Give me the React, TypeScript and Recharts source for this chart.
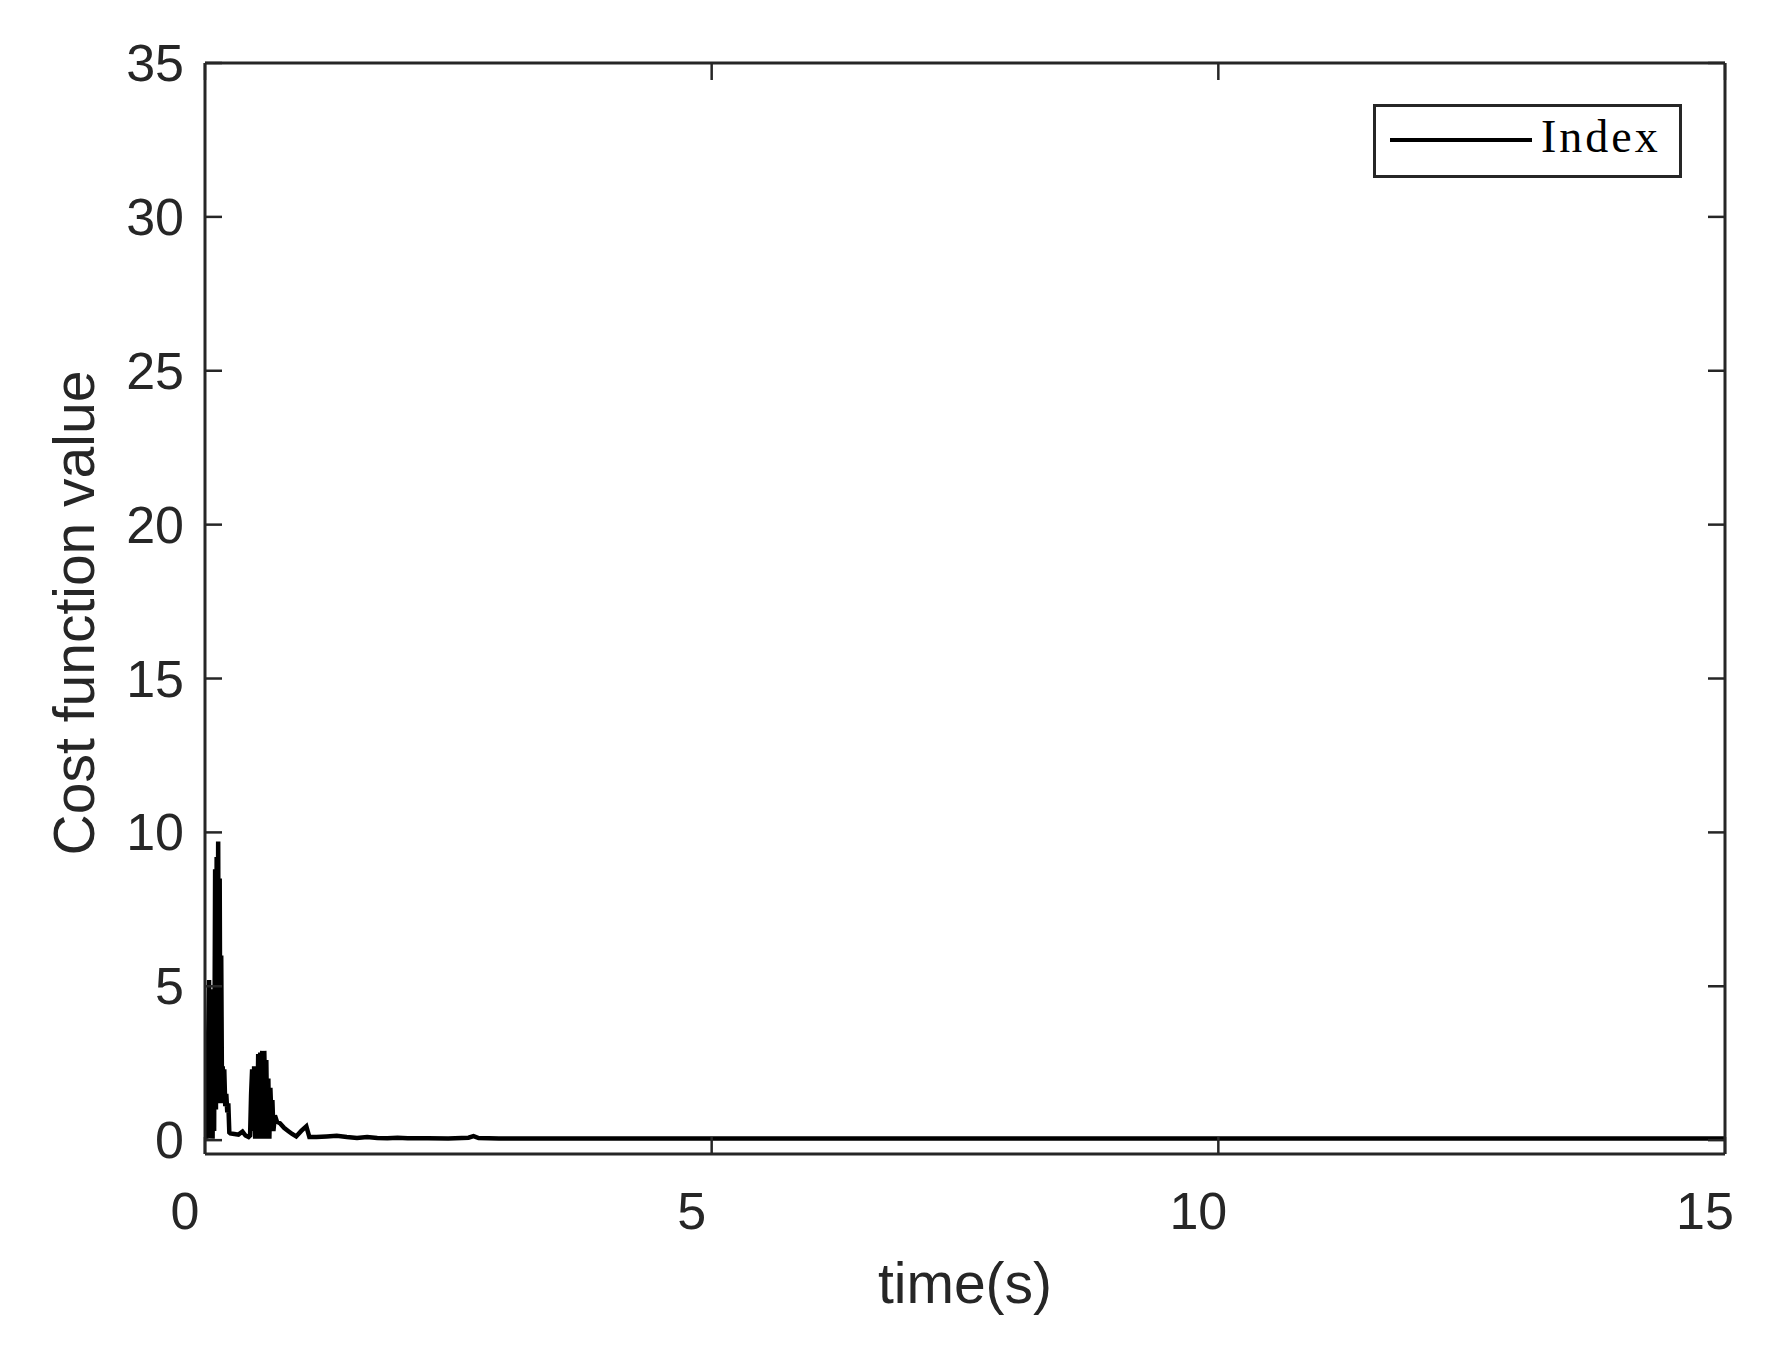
import React from 'react';
import { LineChart, Line, XAxis, YAxis, Legend, Label } from 'recharts';

// ---- data ----
const time: number[] = [
  0.0, 0.015, 0.03, 0.04, 0.048, 0.055, 0.06, 0.068, 0.075, 0.082, 0.09, 0.1, 0.108, 0.115, 0.122, 0.13,
  0.137, 0.145, 0.152, 0.16, 0.168, 0.175, 0.182, 0.19, 0.2, 0.21, 0.22, 0.23, 0.24, 0.25,
  0.29, 0.33, 0.37, 0.4, 0.43, 0.445, 0.455, 0.465, 0.475, 0.485, 0.495, 0.505, 0.515, 0.525,
  0.535, 0.545, 0.555, 0.565, 0.575, 0.585, 0.595, 0.605, 0.615, 0.625, 0.635, 0.645, 0.655,
  0.665, 0.675, 0.69, 0.71, 0.74, 0.78, 0.82, 0.86, 0.9, 0.95, 1.0, 1.03, 1.1, 1.2, 1.3, 1.4,
  1.5, 1.6, 1.7, 1.8, 1.9, 2.0, 2.2, 2.4, 2.6, 2.65, 2.7, 2.9, 3.2, 3.6, 4.0, 5.0, 6.0, 7.0, 8.0,
  9.0, 10.0, 11.0, 12.0, 13.0, 14.0, 15.0,
];
const cost: number[] = [
  0.3, 0.05, 3.0, 5.2, 0.1, 4.9, 0.05, 1.2, 0.05, 4.0, 0.3, 8.8, 1.0, 9.2, 2.0, 9.7,
  1.4, 8.5, 1.2, 6.0, 1.3, 2.4, 1.2, 2.3, 1.1, 1.5, 0.9, 1.2, 0.25, 0.22,
  0.2, 0.18, 0.28, 0.15, 0.1, 0.15, 1.5, 2.3, 0.3, 2.4, 0.05, 2.2, 0.4, 2.8,
  0.05, 2.85, 0.8, 2.9, 0.05, 2.9, 1.0, 2.6, 0.05, 2.0, 0.05, 1.7, 0.8,
  1.3, 0.3, 0.8, 0.6, 0.55, 0.4, 0.3, 0.2, 0.12, 0.3, 0.45, 0.1, 0.1, 0.12, 0.14, 0.1,
  0.07, 0.1, 0.07, 0.06, 0.08, 0.06, 0.06, 0.05, 0.08, 0.13, 0.07, 0.05, 0.05, 0.05, 0.05, 0.05, 0.05, 0.05, 0.05,
  0.05, 0.05, 0.05, 0.05, 0.05, 0.05, 0.05,
];
const xTicks: number[] = [0, 5, 10, 15];
const yTicks: number[] = [0, 5, 10, 15, 20, 25, 30, 35];
const seriesName = 'Index';
const xLabel = 'time(s)';
const yLabel = 'Cost function value';

const data = time.map((t, i) => ({ t, v: cost[i] }));

const AX = '#262626';
const SANS = '"Liberation Sans", Arial, Helvetica, sans-serif';
const TICK_LEN = 17;

const BottomTick = (props: any) => {
  const { x, y, payload } = props;
  return (
    <g>
      <line x1={x} x2={x} y1={y} y2={y - TICK_LEN} stroke={AX} strokeWidth={2.5} />
      <text x={x - 20} y={y + 75} textAnchor="middle" fontSize={52} fill={AX} fontFamily={SANS}>
        {payload.value}
      </text>
    </g>
  );
};
const TopTick = (props: any) => {
  const { x, y } = props;
  return <line x1={x} x2={x} y1={y} y2={y + TICK_LEN} stroke={AX} strokeWidth={2.5} />;
};
const LeftTick = (props: any) => {
  const { x, y, payload } = props;
  return (
    <g>
      <line x1={x} x2={x + TICK_LEN} y1={y} y2={y} stroke={AX} strokeWidth={2.5} />
      <text x={x - 21} y={y + 18} textAnchor="end" fontSize={52} fill={AX} fontFamily={SANS}>
        {payload.value}
      </text>
    </g>
  );
};
const RightTick = (props: any) => {
  const { x, y } = props;
  return <line x1={x} x2={x - TICK_LEN} y1={y} y2={y} stroke={AX} strokeWidth={2.5} />;
};

const LegendBox = () => (
  <div
    style={{
      width: 303,
      height: 68,
      border: `3px solid ${AX}`,
      background: '#fff',
      boxSizing: 'content-box',
      position: 'relative',
    }}
  >
    <div style={{ position: 'absolute', left: 14, top: 31, width: 142, height: 3.5, background: '#000' }} />
    <div
      style={{
        position: 'absolute',
        left: 165,
        top: 2,
        fontFamily: '"Liberation Serif", "Times New Roman", serif',
        fontSize: 46,
        letterSpacing: 3,
        color: '#000',
        lineHeight: '56px',
      }}
    >
      {seriesName}
    </div>
  </div>
);

export default function App() {
  return (
    <div style={{ position: 'absolute', left: 0, top: 0, width: 1790, height: 1353, background: '#fff' }}>
      <LineChart
        width={1790}
        height={1353}
        data={data}
        margin={{ top: 62, right: 64, bottom: 99, left: 105 }}
      >
        <XAxis
          xAxisId="b"
          dataKey="t"
          type="number"
          domain={[0, 15]}
          ticks={xTicks}
          allowDataOverflow
          height={100}
          tickSize={0}
          tickMargin={0}
          tickLine={false}
          axisLine={{ stroke: AX, strokeWidth: 3 }}
          tick={<BottomTick />}
        >
          <Label
            content={() => (
              <text x={965} y={1303} textAnchor="middle" fontSize={57} fill={AX} fontFamily={SANS}>
                {xLabel}
              </text>
            )}
          />
        </XAxis>
        <XAxis
          xAxisId="t"
          orientation="top"
          dataKey="t"
          type="number"
          domain={[0, 15]}
          ticks={xTicks}
          allowDataOverflow
          height={1}
          tickSize={0}
          tickMargin={0}
          tickLine={false}
          axisLine={{ stroke: AX, strokeWidth: 3 }}
          tick={<TopTick />}
        />
        <YAxis
          yAxisId="l"
          type="number"
          domain={[-0.45, 35]}
          ticks={yTicks}
          allowDataOverflow
          width={100}
          tickSize={0}
          tickMargin={0}
          tickLine={false}
          axisLine={{ stroke: AX, strokeWidth: 3 }}
          tick={<LeftTick />}
        >
          <Label
            content={() => (
              <text
                x={0}
                y={0}
                transform="translate(94,613) rotate(-90)"
                textAnchor="middle"
                fontSize={57}
                fill={AX}
                fontFamily={SANS}
              >
                {yLabel}
              </text>
            )}
          />
        </YAxis>
        <YAxis
          yAxisId="r"
          orientation="right"
          type="number"
          domain={[-0.45, 35]}
          ticks={yTicks}
          allowDataOverflow
          width={1}
          tickSize={0}
          tickMargin={0}
          tickLine={false}
          axisLine={{ stroke: AX, strokeWidth: 3 }}
          tick={<RightTick />}
        />
        <Legend
          layout="vertical"
          align="center"
          verticalAlign="middle"
          content={<LegendBox />}
          wrapperStyle={{ left: 1373, top: 104, width: 309, height: 74 }}
        />
        <Line
          xAxisId="b"
          yAxisId="l"
          dataKey="v"
          name={seriesName}
          type="linear"
          stroke="#000"
          strokeWidth={4.5}
          strokeLinejoin="miter"
          dot={false}
          isAnimationActive={false}
        />
      </LineChart>
    </div>
  );
}
